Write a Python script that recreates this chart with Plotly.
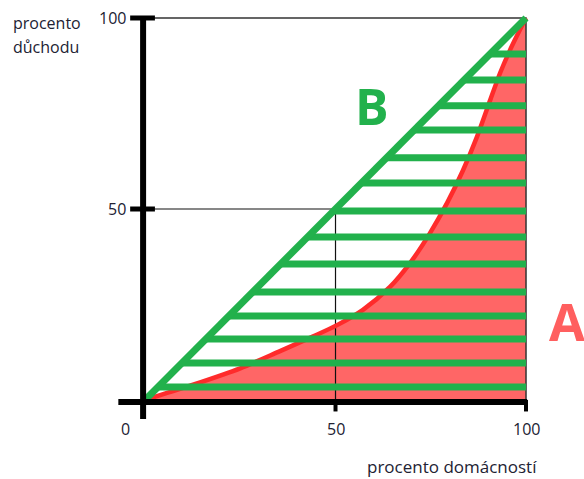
import plotly.graph_objects as go

# Lorenz curve: percent of households vs percent of income
households = [0, 12, 25, 35, 44, 50.4, 57.2, 64.3, 69.6, 74.8, 79.3, 83.5, 87.1, 90.6, 93.2, 95.8, 98.4, 100]
income = [0, 3.8, 8.3, 12.6, 16.6, 19.6, 23.6, 29.6, 35.9, 43.7, 51.6, 60.2, 68.8, 78.5, 85.6, 91.6, 96.9, 100]

# hatch lines of area B
hatch_levels = [3.4, 9.7, 16.0, 22.0, 28.3, 35.6, 42.7, 49.5, 56.8, 63.4, 70.7, 77.0, 83.8, 90.6]

tick_values = [0, 50, 100]
tick_labels = ["0", "50", "100"]

GREEN = "#22B14C"
RED_FILL = "#FF6666"
RED_LINE = "#FF2B2B"
TEXT = "#222233"
FONT = "Open Sans"

fig = go.Figure()

# area A under the curve
fig.add_trace(go.Scatter(
    x=households, y=income, fill="tozeroy", fillcolor=RED_FILL, mode="lines",
    line=dict(width=0, shape="spline", smoothing=0.8), hoverinfo="skip"))

# thin frame on the right and at the top
fig.add_trace(go.Scatter(x=[tick_values[0], tick_values[-1], tick_values[-1]],
                         y=[tick_values[-1], tick_values[-1], tick_values[0]],
                         mode="lines", line=dict(color="#333", width=1.5)))

# guide lines at 50
fig.add_trace(go.Scatter(x=[0, 50, 50], y=[50, 50, 0], mode="lines",
                         line=dict(color="#111", width=1.2)))

# lorenz curve
fig.add_trace(go.Scatter(x=households, y=income, mode="lines",
                         line=dict(color=RED_LINE, width=4.5, shape="spline", smoothing=0.8)))

# hatching of area B
hx, hy = [], []
for lvl in hatch_levels:
    hx += [lvl, 100, None]
    hy += [lvl, lvl, None]
fig.add_trace(go.Scatter(x=hx, y=hy, mode="lines", line=dict(color=GREEN, width=7)))

# line of equality
fig.add_trace(go.Scatter(x=[0, 100], y=[0, 100], mode="lines", line=dict(color=GREEN, width=7)))

# thick axes and ticks
shapes = [
    dict(type="line", x0=-0.5, x1=-0.5, y0=-5, y1=100.5, line=dict(color="black", width=6)),
    dict(type="line", x0=-7, x1=100.3, y0=-0.5, y1=-0.5, line=dict(color="black", width=6)),
]
for v in tick_values[1:]:
    shapes.append(dict(type="line", x0=-3.9, x1=2.6, y0=v, y1=v, line=dict(color="black", width=5)))
    shapes.append(dict(type="line", x0=v, x1=v, y0=0, y1=-3, line=dict(color="black", width=4)))

annotations = []
for v, t in zip(tick_values[1:], tick_labels[1:]):
    annotations.append(dict(x=-4.4, y=v, text=t, xanchor="right", yanchor="middle", showarrow=False))
for v, t in zip(tick_values, tick_labels):
    xv = -5 if v == 0 else v
    annotations.append(dict(x=xv, y=-7.5, text=t, xanchor="center", yanchor="middle", showarrow=False))

annotations += [
    dict(x=11/584, y=1-23/479, xref="paper", yref="paper", text="procento",
         xanchor="left", yanchor="middle", showarrow=False),
    dict(x=11/584, y=1-47/479, xref="paper", yref="paper", text="důchodu",
         xanchor="left", yanchor="middle", showarrow=False),
    dict(x=452/584, y=1-466/479, xref="paper", yref="paper", text="procento domácností",
         font=dict(size=17), xanchor="center", yanchor="middle", showarrow=False, borderpad=0),
    dict(x=372/584, y=1-106/479, xref="paper", yref="paper", text="<b>B</b>",
         font=dict(size=50, color=GREEN, family=FONT), xanchor="center", yanchor="middle", showarrow=False),
    dict(x=567/584, y=1-320/479, xref="paper", yref="paper", text="<b>A</b>",
         font=dict(size=52, color="#FF5F5F", family=FONT), xanchor="center", yanchor="middle", showarrow=False),
]

fig.update_layout(
    width=584, height=479,
    margin=dict(l=0, r=0, t=0, b=0),
    plot_bgcolor="white", paper_bgcolor="white",
    showlegend=False,
    font=dict(family=FONT, size=16, color=TEXT),
    shapes=shapes,
    annotations=annotations,
    xaxis=dict(range=[-38.06, 115.22], visible=False, fixedrange=True),
    yaxis=dict(range=[-20.68, 104.71], visible=False, fixedrange=True),
)

fig.write_html("out.html", config={"displayModeBar": False},
               post_script="document.body.style.margin='0';")
